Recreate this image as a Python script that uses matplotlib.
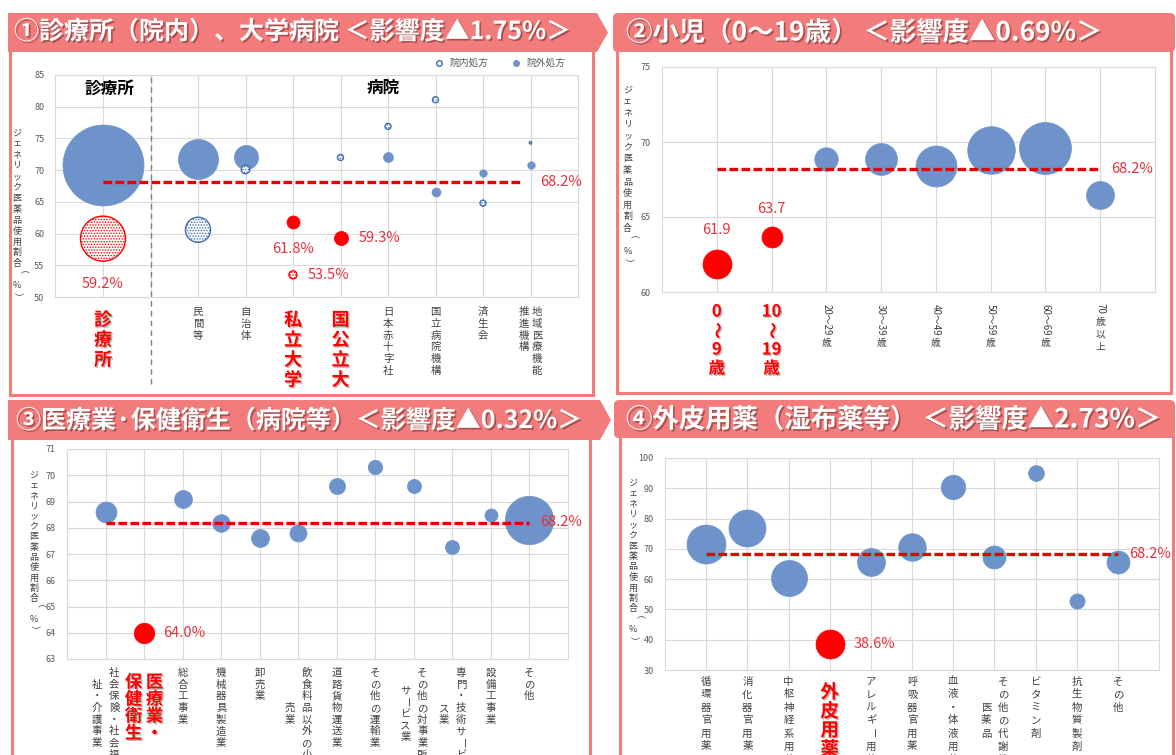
import numpy as np
import matplotlib.pyplot as plt
import matplotlib.patheffects as pe
from matplotlib.patches import Polygon, Rectangle, FancyBboxPatch
from matplotlib.transforms import ScaledTranslation
from matplotlib.lines import Line2D

plt.rcParams['font.family'] = ['Noto Sans CJK JP', 'DejaVu Sans']
plt.rcParams['hatch.linewidth'] = 0.7

W, H, DPI = 1176, 755, 100

# 全体平均
AVG = 68.2

# ① 診療所・病院（院内処方／院外処方）
p1_cats = ['診療所', '民間等', '自治体', '私立大学', '国公立大', '日本赤十字社',
           '国立病院機構', '済生会', '地域医療機能\n推進機構']
p1_out = [70.8, 71.7, 72.0, 61.8, 59.3, 72.0, 66.6, 69.6, 70.8]
p1_out_w = [65.6, 16.0, 5.8, 1.7, 2.0, 1.0, 0.8, 0.56, 0.56]
p1_in = [59.2, 60.6, 70.1, 53.5, 72.0, 76.9, 81.1, 64.8, 74.3]
p1_in_w = [20.3, 6.3, 0.72, 0.64, 0.36, 0.36, 0.36, 0.36, 0.06]
p1_red_out = ['私立大学', '国公立大']
p1_red_in = ['診療所', '私立大学']
p1_red_lbl = ['診療所', '私立大学', '国公立大']

# ② 年齢階級
p2_cats = ['0～9歳', '10～19歳', '20～29歳', '30～39歳', '40～49歳',
           '50～59歳', '60～69歳', '70歳以上']
p2_vals = [61.9, 63.7, 68.9, 68.85, 68.4, 69.5, 69.6, 66.5]
p2_w = [8.4, 4.4, 5.5, 10.2, 16.8, 22.6, 27.0, 7.8]
p2_red = ['0～9歳', '10～19歳']

# ③ 業態
p3_cats = ['社会保険・社会福\n祉・介護事業', '医療業・\n保健衛生', '総合工事業',
           '機械器具製造業', '卸売業', '飲食料品以外の小\n売業', '道路貨物運送業',
           'その他の運輸業', 'その他の対事業所\nサービス業', '専門・技術サービ\nス業',
           '設備工事業', 'その他']
p3_vals = [68.6, 64.0, 69.1, 68.2, 67.6, 67.8, 69.6, 70.3, 69.6, 67.25, 68.5, 68.3]
p3_w = [4.4, 4.2, 3.2, 3.1, 3.2, 2.9, 2.6, 2.1, 2.0, 2.0, 1.7, 23.5]
p3_red = ['医療業・\n保健衛生']

# ④ 薬効分類
p4_cats = ['循環器官用薬', '消化器官用薬', '中枢神経系用薬', '外皮用薬', 'アレルギー用薬',
           '呼吸器官用薬', '血液・体液用薬', 'その他の代謝性\n医薬品', 'ビタミン剤',
           '抗生物質製剤', 'その他']
p4_vals = [71.6, 77.0, 60.3, 38.6, 65.5, 70.7, 90.3, 67.2, 95.2, 52.9, 65.5]
p4_w = [15.2, 13.7, 13.0, 8.4, 7.8, 7.6, 6.0, 5.3, 2.5, 2.3, 5.3]
p4_red = ['外皮用薬']

YLABEL = 'ジェネリック医薬品使用割合（%）'

BLUE = '#6E93CA'
BLUE_EDGE = '#3D6DB3'
RED = '#FF0000'
LINE_RED = '#E60000'
TXT_RED = '#E8303A'
PINK = '#F27C7C'
GRID = '#D9D9D9'
GRAY = '#404040'

fig = plt.figure(figsize=(W / DPI, H / DPI), dpi=DPI)

# 背景（見出し帯と枠）はピクセル座標で描く
bg = fig.add_axes([0, 0, 1, 1])
bg.set_xlim(0, W)
bg.set_ylim(H, 0)
bg.axis('off')

bg.add_patch(Polygon([(8, 13), (597, 13), (608, 32.5), (597, 52), (8, 52)], color=PINK, lw=0))
bg.add_patch(FancyBboxPatch((613, 13), 562, 39, boxstyle='round,pad=0,rounding_size=5', color=PINK, lw=0))
bg.add_patch(Polygon([(8, 400), (600, 400), (611, 420), (600, 440), (8, 440)], color=PINK, lw=0))
bg.add_patch(FancyBboxPatch((614, 400), 561, 38, boxstyle='round,pad=0,rounding_size=5', color=PINK, lw=0))
for x0, y0, w, h in [(10, 50, 583, 345), (617, 50, 554, 343), (12, 438, 578, 340), (620, 436, 553, 340)]:
    bg.add_patch(Rectangle((x0, y0), w, h, fill=False, ec=PINK, lw=2.2))

title_fx = [pe.SimplePatchShadow(offset=(1.2, -1.2), shadow_rgbFace='#6b2a2a', alpha=0.55), pe.Normal()]
titles = [(14, 32, '①診療所（院内）、大学病院 ＜影響度▲1.75%＞', 18),
          (626, 33, '②小児（0～19歳） ＜影響度▲0.69%＞', 19),
          (16, 421, '③医療業·保健衛生（病院等）＜影響度▲0.32%＞', 18),
          (626, 420, '④外皮用薬（湿布薬等） ＜影響度▲2.73%＞', 19)]
for x, y, s, fs in titles:
    bg.text(x, y, s, color='white', fontsize=fs, fontweight='bold', ha='left', va='center',
            path_effects=title_fx)

ROT = set('（）ー～')


def split_tokens(s, mode):
    out = []
    for ch in s:
        if ch.isdigit() or (mode == 'rot' and ch == '～'):
            if out and out[-1][1]:
                out[-1][0] += ch
                continue
            out.append([ch, True])
        else:
            out.append([ch, False])
    return [t for t, _ in out]


def vstack(ax, x, y, text, trans, step, size, top=0, mode=None, colsep=17, align='center', **kw):
    """縦書きラベル（1文字ずつ下へ積む。改行は左側の次の列）"""
    em = size * DPI / 72

    def adv(t):
        if mode == 'rot' and t[0].isdigit():
            return sum(em if ord(c) > 0x2000 else 0.6 * em for c in t) + 2
        return step

    cols = [split_tokens(c, mode) for c in text.split('\n')]
    lens = [sum(adv(t) for t in ts) for ts in cols]
    n = len(cols)
    for k, ts in enumerate(cols):
        dx = colsep * ((n - 1) / 2 - k)
        cur = top + ((max(lens) - lens[k]) / 2 if align == 'center' else 0)
        for t in ts:
            a = adv(t)
            rot = t in ROT or (mode == 'rot' and t[0].isdigit())
            off = ScaledTranslation(dx / DPI, -(cur + a / 2) / DPI, fig.dpi_scale_trans)
            ax.text(x, y, t, transform=trans + off, ha='center', va='center',
                    rotation=-90 if rot else 0, rotation_mode='anchor', fontsize=size, **kw)
            cur += a


def px_axes(l, t, r, b):
    return fig.add_axes([l / W, 1 - b / H, (r - l) / W, (b - t) / H])


def style(ax, ncat, yticks):
    ax.set_xlim(0, ncat + 1)
    ax.set_ylim(yticks[0], yticks[-1])
    ax.set_xticks(np.arange(1, ncat + 1))
    ax.set_xticklabels([])
    ax.set_yticks(yticks)
    ax.tick_params(length=0, labelsize=6.5, labelcolor='#595959', pad=8)
    ax.grid(True, color=GRID, lw=0.8)
    ax.set_axisbelow(True)
    for sp in ax.spines.values():
        sp.set_color(GRID)
        sp.set_linewidth(0.8)


def avg_line(ax, x0, x1, dx):
    ax.plot([x0, x1], [AVG, AVG], color=LINE_RED, lw=2.4, dashes=(2.6, 1.0), zorder=5)
    ax.annotate(f'{AVG:.1f}%', (x1, AVG), xytext=(dx, 0), textcoords='offset pixels',
                ha='left', va='center', color=TXT_RED, fontsize=10.5, zorder=6)


def bubble(ax, x, v, w, **kw):
    ax.scatter([x], [v], s=51.84 * w, zorder=3, **kw)


red_fx = [pe.withSimplePatchShadow(offset=(1, -1), shadow_rgbFace='#777777', alpha=0.5)]


def xlabels(ax, xs, cats, reds, small, big, mode=None, align='center', colsep=17):
    tr = ax.get_xaxis_transform()
    for x, c in zip(xs, cats):
        if c in reds:
            vstack(ax, x, 0, c, tr, big[1], big[0], top=big[2], colsep=big[3],
                   mode='up' if mode else None, color=RED, fontweight='bold', path_effects=red_fx)
        else:
            vstack(ax, x, 0, c, tr, small[1], small[0], top=small[2], mode=mode,
                   align=align, colsep=colsep, color=GRAY)


def ylabel(x, y_first, step):
    vstack(bg, x, y_first - step / 2, YLABEL, bg.transData, step, 6.5, color=GRAY)


# ---------- ① ----------
ax1 = px_axes(55.5, 75, 578, 297)
style(ax1, 10, np.arange(50, 86, 5))
p1_x = np.r_[1, np.arange(3, 3 + len(p1_cats) - 1)]
for x, c, v, w in zip(p1_x, p1_cats, p1_out, p1_out_w):
    col = RED if c in p1_red_out else BLUE
    bubble(ax1, x, v, w, color=col, edgecolors=col, linewidths=0.5)
for x, c, v, w in zip(p1_x, p1_cats, p1_in, p1_in_w):
    ec = RED if c in p1_red_in else BLUE_EDGE
    bubble(ax1, x, v, w, facecolors='white', edgecolors=ec, linewidths=1.0, hatch='......')
ax1.axvline(2, ymin=-0.39, ymax=1, color='#808080', lw=1, dashes=(4, 3), clip_on=False)
avg_line(ax1, p1_x[0], p1_x[-1] - 0.2, 19)
i_cl, i_pr, i_pu = p1_cats.index('診療所'), p1_cats.index('私立大学'), p1_cats.index('国公立大')
for x, v, d, ha in [(p1_x[i_cl], p1_in[i_cl], (0, -45), 'center'),
                    (p1_x[i_pr], p1_out[i_pr], (0, -27), 'center'),
                    (p1_x[i_pr], p1_in[i_pr], (15, 0), 'left'),
                    (p1_x[i_pu], p1_out[i_pu], (18, 0), 'left')]:
    ax1.annotate(f'{v:.1f}%', (x, v), xytext=d, textcoords='offset pixels',
                 ha=ha, va='center', color=TXT_RED, fontsize=10.5)
ax1.text(1.13, 82.9, '診療所', ha='center', va='center', fontsize=12, fontweight='bold', color='black')
ax1.text(6.9, 82.9, '病院', ha='center', va='center', fontsize=12, fontweight='bold', color='black')
handles = [Line2D([], [], ls='', marker='o', ms=4, mfc='white', mec=BLUE_EDGE, mew=1),
           Line2D([], [], ls='', marker='o', ms=4, mfc=BLUE, mec=BLUE)]
ax1.legend(handles, ['院内処方', '院外処方'], ncol=2, loc='lower right', bbox_to_anchor=(0.985, 1.01),
           frameon=False, fontsize=7, handletextpad=0.1, columnspacing=1.8, borderaxespad=0.1,
           labelcolor='#595959')
xlabels(ax1, p1_x, p1_cats, p1_red_lbl, (7.5, 11.8, 9), (13, 20, 13, 0), align='top', colsep=13)
ylabel(17, 133, 10.9)

# ---------- ② ----------
ax2 = px_axes(662, 67, 1155, 292)
style(ax2, len(p2_cats), np.arange(60, 76, 5))
p2_x = np.arange(1, len(p2_cats) + 1)
for x, c, v, w in zip(p2_x, p2_cats, p2_vals, p2_w):
    col = RED if c in p2_red else BLUE
    bubble(ax2, x, v, w, color=col, edgecolors=col, linewidths=0.5)
    if c in p2_red:
        ax2.annotate(f'{v:.1f}', (x, v), xytext=(0, 5.2 * np.sqrt(w) * 1.45 + 12),
                     textcoords='offset pixels', ha='center', va='center', color=TXT_RED, fontsize=10.5)
avg_line(ax2, p2_x[0], p2_x[-1], 11)
xlabels(ax2, p2_x, p2_cats, p2_red, (7, 12.5, 10), (12, 19, 10, 0), mode='rot')
ylabel(627.5, 90, 11.5)

# ---------- ③ ----------
ax3 = px_axes(67, 449, 568, 659)
style(ax3, len(p3_cats), np.arange(63, 72, 1))
p3_x = np.arange(1, len(p3_cats) + 1)
for x, c, v, w in zip(p3_x, p3_cats, p3_vals, p3_w):
    col = RED if c in p3_red else BLUE
    bubble(ax3, x, v, w, color=col, edgecolors=col, linewidths=0.5)
    if c in p3_red:
        ax3.annotate(f'{v:.1f}%', (x, v), xytext=(19, 0), textcoords='offset pixels',
                     ha='left', va='center', color=TXT_RED, fontsize=10.5)
avg_line(ax3, p3_x[0], p3_x[-1], 11)
xlabels(ax3, p3_x, p3_cats, p3_red, (7.5, 11.7, 8), (12.5, 17, 15, 21))
ylabel(34, 475, 10.3)

# ---------- ④ ----------
ax4 = px_axes(665, 458, 1159, 670)
style(ax4, len(p4_cats), np.arange(30, 101, 10))
p4_x = np.arange(1, len(p4_cats) + 1)
for x, c, v, w in zip(p4_x, p4_cats, p4_vals, p4_w):
    col = RED if c in p4_red else BLUE
    bubble(ax4, x, v, w, color=col, edgecolors=col, linewidths=0.5)
    if c in p4_red:
        ax4.annotate(f'{v:.1f}%', (x, v), xytext=(24, 0), textcoords='offset pixels',
                     ha='left', va='center', color=TXT_RED, fontsize=10.5)
avg_line(ax4, p4_x[0], p4_x[-1], 11)
xlabels(ax4, p4_x, p4_cats, p4_red, (7.5, 13, 5), (13.5, 19, 13, 0))
ylabel(633, 483, 10.5)

fig.savefig('out.png', dpi=DPI)
